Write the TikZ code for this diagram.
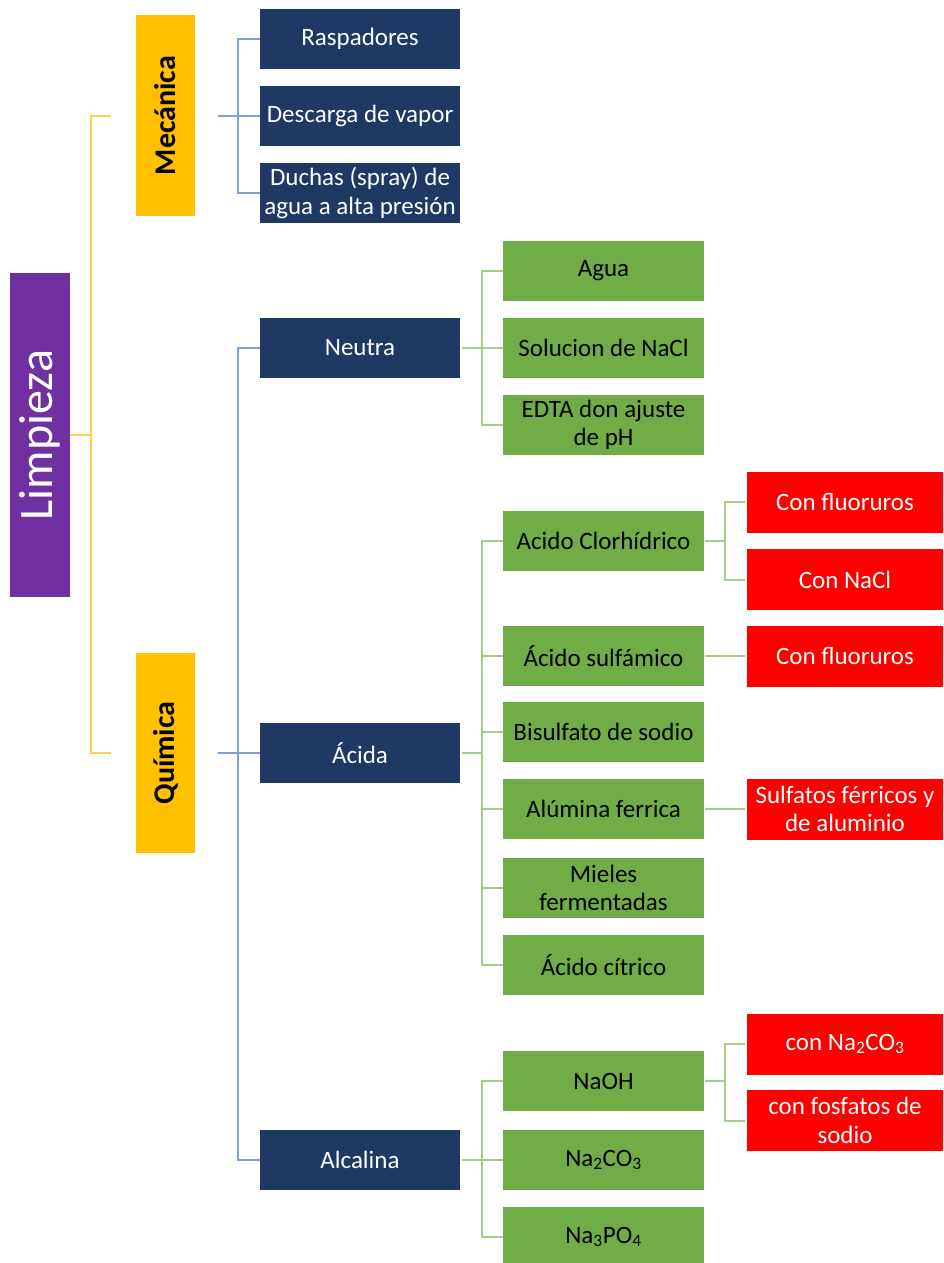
\documentclass[tikz,border=0pt]{standalone}
\usepackage{fontspec}
\setmainfont{Carlito}
\usepackage{tikz}
\definecolor{limpviolet}{HTML}{7030A0}
\definecolor{amber}{HTML}{FFC000}
\definecolor{navy}{HTML}{203864}
\definecolor{leaf}{HTML}{70AD47}
\definecolor{alarm}{HTML}{FF0000}
\definecolor{amberline}{HTML}{FFD24D}
\definecolor{blueline}{HTML}{7F9FDA}
\definecolor{greenline}{HTML}{A3CD88}
\tikzstyle{box} = [rectangle, inner sep=0pt, align=center, font=\fontsize{25}{28.5}\selectfont]
\tikzstyle{navybox} = [box, fill=navy, text=white, minimum width=200pt, minimum height=60pt]
\tikzstyle{leafbox} = [box, fill=leaf, text=black, minimum width=201pt, minimum height=60pt]
\tikzstyle{alarmbox} = [box, fill=alarm, text=white, minimum width=196pt, minimum height=61pt]
\tikzstyle{yline} = [amberline, line width=2pt]
\tikzstyle{bline} = [blueline, line width=2pt]
\tikzstyle{gline} = [greenline, line width=2pt]

\begin{document}
\begin{tikzpicture}[x=1pt, y=-1pt]
          \useasboundingbox (0,0) rectangle (943,1263);
          % Node positions
          \node[box, fill=limpviolet, text=white, minimum width=60pt, minimum height=324pt,
                font=\fontsize{48}{50}\selectfont] (limp) at (40,435) {\rotatebox{90}{Limpieza}};
          \node[box, fill=amber, minimum width=59pt, minimum height=201pt,
                font=\fontsize{30}{31}\selectfont\bfseries] (mec) at (165.5,115.5) {\rotatebox{90}{Mecánica}};
          \node[box, fill=amber, minimum width=59pt, minimum height=200pt,
                font=\fontsize{30}{31}\selectfont\bfseries] (qui) at (165.5,753) {\rotatebox{90}{Química}};

          \node[navybox] (rasp) at (360,39) {Raspadores};
          \node[navybox] (desc) at (360,116) {Descarga de vapor};
          \node[navybox] (duch) at (360,193) {Duchas (spray) de\\agua a alta presión};

          \node[navybox] (neu) at (360,348) {Neutra};
          \node[navybox] (aci) at (360,753) {Ácida};
          \node[navybox] (alc) at (360,1160) {Alcalina};

          \node[leafbox] (agua) at (603.5,271) {Agua};
          \node[leafbox] (nacl) at (603.5,348) {Solucion de NaCl};
          \node[leafbox] (edta) at (603.5,425) {EDTA don ajuste\\de pH};

          \node[leafbox] (clor) at (603.5,541) {Acido Clorhídrico};
          \node[leafbox] (sulf) at (603.5,656) {Ácido sulfámico};
          \node[leafbox] (bisu) at (603.5,732) {Bisulfato de sodio};
          \node[leafbox] (alum) at (603.5,809) {Alúmina ferrica};
          \node[leafbox] (miel) at (603.5,888) {Mieles\\fermentadas};
          \node[leafbox] (citr) at (603.5,965) {Ácido cítrico};

          \node[leafbox] (naoh) at (603.5,1081) {NaOH};
          \node[leafbox] (naco) at (603.5,1160) {Na\textsubscript{2}CO\textsubscript{3}};
          \node[leafbox] (napo) at (603.5,1237) {Na\textsubscript{3}PO\textsubscript{4}};

          \node[alarmbox] (fluo) at (845,502) {Con fluoruros};
          \node[alarmbox] (clna) at (845,579.5) {Con NaCl};
          \node[alarmbox] (flub) at (845,656) {Con fluoruros};
          \node[alarmbox] (sfer) at (845,809) {Sulfatos férricos y\\de aluminio};
          \node[alarmbox] (cnac) at (845,1044) {con Na\textsubscript{2}CO\textsubscript{3}};
          \node[alarmbox] (cfos) at (845,1120.5) {con fosfatos de\\sodio};

          % Edges
          \draw[yline, shorten >=25pt] (limp.east) -- ++(21,0) |- (mec.west);
          \draw[yline, shorten >=25pt] (limp.east) -- ++(21,0) |- (qui.west);

          \draw[bline, shorten <=23pt] (mec.east) -- ++(43,0) |- (rasp.west);
          \draw[bline, shorten <=23pt] (mec.east) -- ++(43,0) |- (desc.west);
          \draw[bline, shorten <=23pt] (mec.east) -- ++(43,0) |- (duch.west);
          \draw[bline, shorten <=23pt] (qui.east) -- ++(43,0) |- (neu.west);
          \draw[bline, shorten <=23pt] (qui.east) -- ++(43,0) |- (aci.west);
          \draw[bline, shorten <=23pt] (qui.east) -- ++(43,0) |- (alc.west);

          \draw[gline, shorten <=2pt] (neu.east) -- ++(22,0) |- (agua.west);
          \draw[gline, shorten <=2pt] (neu.east) -- ++(22,0) |- (nacl.west);
          \draw[gline, shorten <=2pt] (neu.east) -- ++(22,0) |- (edta.west);

          \draw[gline, shorten <=2pt] (aci.east) -- ++(22,0) |- (clor.west);
          \draw[gline, shorten <=2pt] (aci.east) -- ++(22,0) |- (sulf.west);
          \draw[gline, shorten <=2pt] (aci.east) -- ++(22,0) |- (bisu.west);
          \draw[gline, shorten <=2pt] (aci.east) -- ++(22,0) |- (alum.west);
          \draw[gline, shorten <=2pt] (aci.east) -- ++(22,0) |- (miel.west);
          \draw[gline, shorten <=2pt] (aci.east) -- ++(22,0) |- (citr.west);

          \draw[gline, shorten <=2pt] (alc.east) -- ++(22,0) |- (naoh.west);
          \draw[gline, shorten <=2pt] (alc.east) -- ++(22,0) |- (naco.west);
          \draw[gline, shorten <=2pt] (alc.east) -- ++(22,0) |- (napo.west);

          \draw[gline, shorten <=1pt, shorten >=2pt] (clor.east) -- ++(21,0) |- (fluo.west);
          \draw[gline, shorten <=1pt, shorten >=2pt] (clor.east) -- ++(21,0) |- (clna.west);
          \draw[gline, shorten <=1pt, shorten >=2pt] (sulf.east) -- (flub.west);
          \draw[gline, shorten <=1pt, shorten >=2pt] (alum.east) -- (sfer.west);
          \draw[gline, shorten <=1pt, shorten >=2pt] (naoh.east) -- ++(21,0) |- (cnac.west);
          \draw[gline, shorten <=1pt, shorten >=2pt] (naoh.east) -- ++(21,0) |- (cfos.west);

        \end{tikzpicture}
\end{document}
